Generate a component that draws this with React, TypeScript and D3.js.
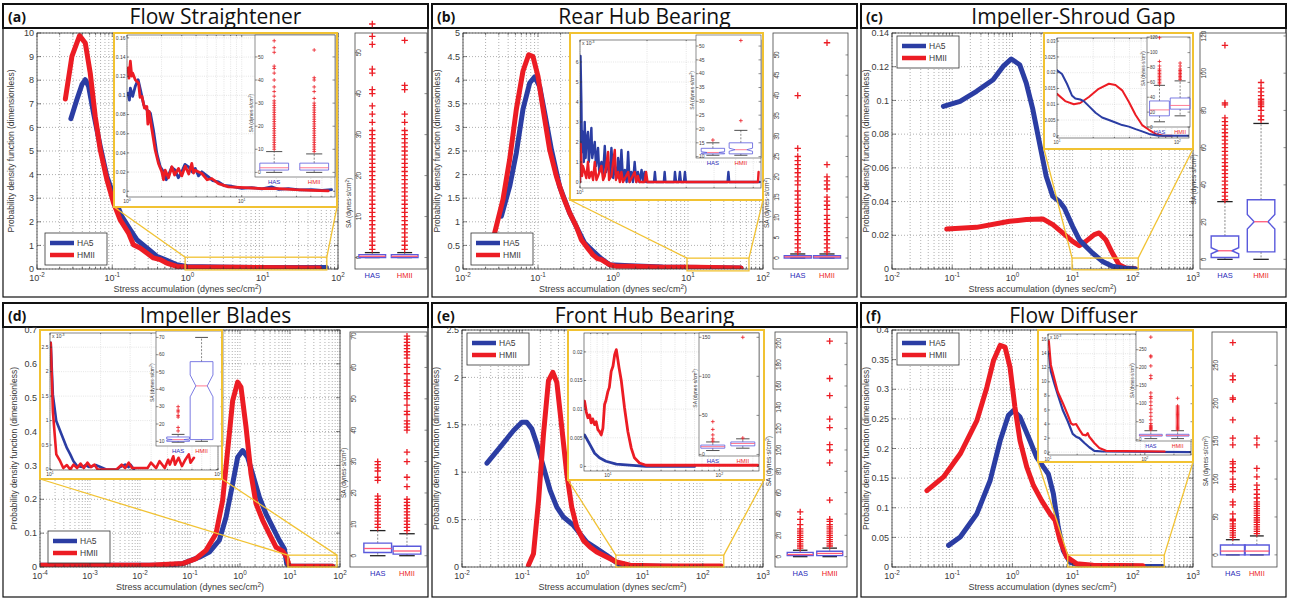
import React from "react";
import * as d3 from "d3";

type P = [number, number];

// ---------------- main curves (x = stress accumulation, y = PDF) ----------------
const aHA5: P[] = [[0.0282,6.37],[0.0339,7.18],[0.0395,7.81],[0.0438,8.02],[0.0485,7.74],[0.0564,6.61],[0.0692,5.2],[0.0848,3.93],[0.109,2.94],[0.134,2.23],[0.173,1.67],[0.212,1.24],[0.288,0.89],[0.39,0.54],[0.53,0.37],[0.72,0.18],[0.98,0.11],[4.06,0.07],[20,0.06],[70,0.06]];
const aHMII: P[] = [[0.0238,7.2],[0.0291,9.01],[0.0368,9.89],[0.0438,9.58],[0.051,8.3],[0.0594,6.47],[0.0692,5.06],[0.0848,3.79],[0.104,2.8],[0.127,2.09],[0.164,1.53],[0.191,1.03],[0.234,0.89],[0.288,0.68],[0.352,0.47],[0.432,0.4],[0.53,0.25],[0.72,0.11],[0.98,0.08],[4.06,0.07],[57,0.04]];
const bHA5: P[] = [[0.0325,1.12],[0.0419,1.75],[0.0514,2.46],[0.063,3.38],[0.0774,3.94],[0.0903,4.07],[0.105,3.87],[0.123,3.3],[0.151,2.53],[0.194,1.75],[0.264,1.19],[0.341,0.83],[0.419,0.55],[0.514,0.41],[0.66,0.25],[0.9,0.09],[1.67,0.07],[4.6,0.04],[51,0.02]];
const bHMII: P[] = [[0.0264,0.76],[0.0341,1.47],[0.0419,2.32],[0.0514,3.38],[0.063,4.19],[0.0751,4.54],[0.0858,4.5],[0.1,4.08],[0.117,3.38],[0.143,2.53],[0.176,1.96],[0.215,1.54],[0.264,1.19],[0.325,0.9],[0.378,0.62],[0.44,0.48],[0.54,0.3],[0.62,0.22],[0.7,0.2],[0.9,0.09],[1.1,0.06],[1.67,0.06],[4.6,0.035],[12.9,0.035],[51,0.02]];
const cHA5: P[] = [[0.0714,0.0965],[0.135,0.0995],[0.254,0.1054],[0.478,0.1123],[0.7,0.1202],[0.96,0.1246],[1.32,0.1212],[1.7,0.1103],[2.19,0.0945],[2.82,0.0747],[3.64,0.055],[4.69,0.0431],[6.04,0.0401],[7.3,0.0362],[10,0.0253],[12.9,0.0174],[16.6,0.0134],[21.4,0.0095],[31.4,0.0045],[45.7,0.0016],[67,0.0006],[111,0]];
const cHMII: P[] = [[0.081,0.0237],[0.2535,0.0247],[0.9,0.0283],[1.7,0.0293],[3.2,0.0297],[4.7,0.0263],[6.85,0.0214],[10,0.0164],[12.9,0.0138],[16.6,0.0164],[22.9,0.0204],[27.6,0.0214],[35.5,0.0174],[45.7,0.0095],[59,0.0026],[76,0.0006],[111,0.0002]];
const dHA5: P[] = [[0.0001,0.005],[0.033,0.005],[0.071,0.01],[0.154,0.029],[0.244,0.044],[0.386,0.079],[0.525,0.147],[0.713,0.246],[0.898,0.324],[1.13,0.344],[1.42,0.324],[1.79,0.275],[2.44,0.206],[3.31,0.157],[4.5,0.118],[6.1,0.079],[7.7,0.054],[8.6,0.01],[9.7,0.002],[71,0.002]];
const dHMII: P[] = [[0.0001,0.005],[0.0154,0.005],[0.071,0.01],[0.132,0.025],[0.209,0.049],[0.331,0.098],[0.45,0.197],[0.566,0.344],[0.713,0.491],[0.898,0.546],[1.047,0.531],[1.32,0.413],[1.66,0.275],[2.09,0.187],[2.84,0.138],[3.86,0.098],[5.25,0.059],[7.1,0.047],[8.6,0.029],[9.7,0.002],[71,0.002]];
const eHA5: P[] = [[0.026,1.095],[0.043,1.264],[0.0718,1.44],[0.0987,1.527],[0.119,1.527],[0.1445,1.457],[0.175,1.3],[0.226,1.053],[0.291,0.808],[0.376,0.632],[0.484,0.527],[0.71,0.439],[0.914,0.351],[1.18,0.263],[1.73,0.193],[2.53,0.123],[3.27,0.07],[4.2,0.018],[6.2,0.007],[22,0.007],[191,0]];
const eHMII: P[] = [[0.127,0.018],[0.154,0.14],[0.187,0.702],[0.226,1.404],[0.273,1.966],[0.322,2.054],[0.376,1.949],[0.454,1.475],[0.55,0.983],[0.665,0.632],[0.805,0.421],[1.04,0.281],[1.34,0.211],[1.73,0.158],[2.53,0.105],[3.7,0.053],[6.2,0.018],[22,0.01],[204,0.01]];
const fHA5: P[] = [[0.087,0.0365],[0.136,0.0506],[0.257,0.09],[0.427,0.146],[0.625,0.213],[0.859,0.256],[1.04,0.264],[1.34,0.253],[1.96,0.213],[2.53,0.185],[3.27,0.169],[3.95,0.157],[4.79,0.124],[5.78,0.067],[7.0,0.028],[9.0,0.0084],[13.2,0.003],[148,0.001],[316,0.001]];
const fHMII: P[] = [[0.038,0.129],[0.0718,0.152],[0.136,0.191],[0.257,0.247],[0.376,0.303],[0.484,0.348],[0.625,0.374],[0.755,0.371],[0.914,0.337],[1.1,0.27],[1.34,0.213],[1.73,0.169],[2.23,0.138],[3.06,0.112],[4.2,0.09],[5.1,0.079],[6.2,0.045],[7.95,0.017],[11.6,0.0056],[22,0.003],[148,0.002]];

// ---------------- inset (zoomed tail) curves ----------------
const aInHA5: P[] = [[1.02,0.1024],[1.05,0.095],[1.07,0.1076],[1.12,0.0989],[1.18,0.1094],[1.25,0.1164],[1.31,0.1059],[1.4,0.0901],[1.49,0.0849],[1.6,0.0814],[1.7,0.0639],[1.82,0.0395],[1.95,0.0255],[2.08,0.0203],[2.2,0.012],[2.3,0.0168],[2.45,0.025],[2.63,0.022],[2.8,0.014],[3.0,0.0203],[3.2,0.028],[3.44,0.0255],[3.7,0.02],[3.93,0.0238],[4.2,0.016],[4.49,0.0203],[5.13,0.015],[5.6,0.011],[6.27,0.0098],[7,0.006],[8.19,0.0052],[10,0.003],[12.2,0.0038],[15,0.0025],[18.2,0.0045],[21,0.002],[25.5,0.0028],[32,0.0015],[40.6,0.0017],[50,0.001],[60.6,0.0017]];
const aInHMII: P[] = [[1.02,0.1286],[1.04,0.118],[1.07,0.1356],[1.1,0.12],[1.12,0.1233],[1.18,0.1164],[1.26,0.1129],[1.3,0.098],[1.35,0.0989],[1.42,0.0867],[1.49,0.0884],[1.52,0.07],[1.56,0.0832],[1.65,0.0639],[1.76,0.043],[1.88,0.029],[2.01,0.0203],[2.08,0.012],[2.15,0.022],[2.3,0.014],[2.46,0.0255],[2.6,0.017],[2.81,0.0238],[3.0,0.016],[3.22,0.0262],[3.45,0.018],[3.67,0.029],[3.8,0.019],[3.93,0.022],[4.49,0.0185],[5,0.012],[5.48,0.0133],[6.27,0.008],[7.66,0.0045],[10.7,0.0038],[14.9,0.0028],[20.8,0.0028],[29.1,0.0017],[40.6,0.001],[56.7,0.0003]];
const bInHA5: P[] = [[10.0,0],[10.05,0.0063],[10.14,0.004],[10.2,0.0015],[10.31,0.0025],[10.4,0.001],[10.5,0.003],[10.6,0.0012],[10.67,0.002],[10.86,0.0025],[10.95,0.001],[11.06,0.0015],[11.25,0.0027],[11.35,0.0012],[11.45,0.0015],[11.65,0.002],[11.8,0.0008],[12.05,0.0017],[12.2,0.0005],[12.48,0.001],[12.7,0.0004],[12.92,0.0018],[13.1,0.0005],[13.37,0.001],[13.6,0.0003],[13.84,0.0017],[14.1,0.0002],[14.33,0.0008],[14.6,0.0002],[14.83,0.0012],[15.1,0.0002],[15.35,0.0016],[15.6,0.0001],[15.9,0.0006],[16.2,0],[16.45,0.0015],[16.7,0],[17.0,0.0005],[17.3,0],[17.6,0.001],[17.9,0],[18.2,0.0005],[18.5,0],[18.9,0.0006],[19.2,0],[19.5,0.0005],[19.8,0],[21.5,0],[21.7,0.0005],[21.9,0],[23.8,0],[24.0,0.0005],[24.2,0],[26.5,0],[26.7,0.0005],[27.0,0],[27.8,0],[28.1,0.0005],[28.4,0],[29.3,0],[29.6,0.0005],[29.9,0],[46.0,0],[46.4,0.0005],[46.8,0],[64,0]];
const bInHMII: P[] = [[10.0,0],[10.05,0.0019],[10.14,0.001],[10.22,0.0003],[10.31,0.0008],[10.5,0.0005],[10.67,0.0002],[10.86,0.001],[11.0,0.0002],[11.25,0.0005],[11.45,0.0001],[11.65,0.001],[11.85,0.0001],[12.05,0.0003],[12.48,0.0008],[12.7,0.0001],[12.92,0.0003],[13.37,0.0015],[13.5,0.0001],[13.84,0.0003],[14.33,0.0016],[14.5,0.0001],[14.83,0.0005],[15.1,0],[15.35,0.0005],[15.6,0],[16.45,0.0005],[16.7,0],[17.6,0.0005],[17.9,0],[18.2,0.0003],[18.5,0],[19.5,0],[19.8,0.0005],[20.1,0],[63,0],[63.4,0.0005]];
const cInHA5: P[] = [[10,0.0208],[11.0,0.0196],[12.1,0.0165],[13.3,0.0128],[14.2,0.0118],[15.6,0.0115],[16.7,0.011],[18.4,0.0094],[20.9,0.0073],[23.7,0.0058],[27,0.005],[30.6,0.0042],[34.8,0.0034],[39.6,0.0029],[45,0.0021],[51,0.0014],[58,0.0006],[70,0],[125,0]];
const cInHMII: P[] = [[10,0.0133],[11.7,0.011],[13.8,0.01],[15.6,0.0104],[18.4,0.0123],[22.2,0.0149],[27,0.0165],[30.6,0.0161],[34.8,0.0144],[39.6,0.0107],[45,0.0066],[51,0.0034],[58,0.0019],[66,0.0006],[75,0.0001],[90,0]];
const dInHA5: P[] = [[10.1,0.00259],[10.4,0.00153],[10.9,0.00099],[11.7,0.00072],[12.6,0.00044],[13.2,0.00031],[13.8,0.00017],[14.5,0.00007],[15.6,0.00005],[16.3,0.00009],[17.1,0.00005],[18.8,0.00009],[20.6,0.00003],[21.6,0],[24.9,0],[26.1,0.00005],[28,0.0001],[29.4,0.00005],[30.1,0.0001],[31.6,0]];
const dInHMII: P[] = [[10.1,0.00259],[10.4,0.00119],[10.9,0.00031],[11.5,0.00017],[12.0,0.00003],[12.6,0.00009],[13.2,0],[13.8,0.0001],[14.5,0.00003],[15.2,0.00012],[15.9,0.00003],[16.7,0.00014],[17.5,0.00005],[18.4,0.0001],[19.2,0],[24.9,0],[26.7,0.0001],[28,0.00003],[29.4,0.00014],[30.8,0.00003],[38.1,0.00003],[39.9,0.00014],[42.8,0.00003],[44.9,0.00017],[48.2,0.00003],[50.5,0.0002],[51.7,0.0001],[54.2,0.00027],[55.5,0.0001],[58.2,0.00024],[61,0.00007],[63.9,0.0002],[67,0.00031],[68.6,0.00014],[71.9,0.00024]];
const eInHA5: P[] = [[6.17,0.0055],[6.9,0.0038],[7.6,0.0023],[8.4,0.0015],[9.6,0.0009],[11.9,0.0004],[16.7,0.0002],[22,0],[60,0]];
const eInHMII: P[] = [[6.17,0.0114],[6.4,0.0095],[6.62,0.0085],[6.85,0.009],[7.08,0.0076],[7.3,0.0083],[7.59,0.0073],[7.85,0.0078],[8.13,0.0064],[8.4,0.0061],[8.71,0.0055],[9.02,0.0067],[9.33,0.0108],[9.6,0.0115],[10,0.0131],[10.3,0.0138],[10.7,0.0166],[11.1,0.0175],[11.5,0.0195],[11.9,0.0204],[12.2,0.019],[12.6,0.0172],[13.2,0.0149],[14.1,0.0102],[15.1,0.0061],[16.2,0.0032],[17.3,0.0015],[19.2,0.0006],[22,0.0002],[221,0.0002]];
const fInHA5: P[] = [[10.2,0.0143],[10.7,0.0115],[11.6,0.0098],[12.6,0.0082],[14.2,0.006],[16.0,0.0044],[18.0,0.0026],[19.5,0.0022],[21.1,0.002],[23.8,0.0013],[26.7,0.0007],[30.1,0.0002],[36.7,0.0001],[300,0]];
const fInHMII: P[] = [[10.2,0.0158],[10.7,0.0124],[11.6,0.0105],[12.6,0.0086],[14.2,0.007],[16.0,0.0053],[17.3,0.0041],[18.2,0.0039],[19.5,0.004],[21.1,0.0032],[22.8,0.0025],[24.7,0.0024],[25.7,0.0027],[26.7,0.0022],[30.1,0.0013],[33.9,0.0006],[39.8,0.0002],[160,0.0001]];

// ---------------- zoom windows [xmin, xmax, ymin, ymax] ----------------
const aZoom = [0.93, 71, -0.04, 0.5];
const bZoom = [9.7, 65, -0.04, 0.23];
const cZoom = [9.8, 123, -0.0005, 0.0065];
const dZoom = [9.1, 87, 0, 0.035];
const eZoom = [3.6, 223, 0, 0.125];
const fZoom = [8.3, 333, 0, 0.02];

// ---------------- box plots: [lowerWhisker, q1, median, q3, upperWhisker] ----------------
const aInHASbox = [0, 1, 2, 4, 9];
const aInHASout = [10,11,12,13,14,15,16,17,18,19,20,21,22,23,24,25,26,27,28,29,30,31,33,35,37,40,43,45,46,52,54,57];
const aInHMIIbox = [0, 1, 2, 4, 8];
const aInHMIIout = [9,10,11,12,13,14,15,16,17,18,19,20,21,22,23,24,25,26,27,28,29,30,32,35,37,40,41,53];
const aHASbox = [0, 0, 0.3, 0.7, 1.2];
const aHASout = [2,3,4,5,6,7,8,9,10,11,12,13,14,15,16,17,18,19,20,21,22,23,24,25,26,27,28,29,30,31,33,35,37,40,41,45,46,52,54,57];
const aHMIIbox = [0, 0, 0.3, 0.7, 1.2];
const aHMIIout = [2,3,4,5,6,7,8,9,10,11,12,13,14,15,16,17,18,19,20,21,22,23,24,25,26,27,28,29,30,31,33,35,41,42,53];

const bInHASbox = [10.5, 11, 11.5, 13, 15];
const bInHASout = [16];
const bInHMIIbox = [10.5, 11, 12.5, 15, 19.5];
const bInHMIIout = [23, 52];
const bHASbox = [0, 0, 0.3, 0.6, 1];
const bHASout = [1.5,2.5,3.5,4.5,5.5,6.5,7.5,8.5,9.5,10.5,11.5,12.5,13.5,14.5,15.5,16.5,18,19,20,21,22,23,24,25,27,40];
const bHMIIbox = [0, 0, 0.3, 0.6, 1];
const bHMIIout = [1.5,2.5,3.5,4.5,5.5,6.5,7.5,8.5,9.5,10.5,12,13,14,15,17,18,19,20,23,53];

const cInHASbox = [7, 15, 23, 35, 56];
const cInHASout = [58,60,62,64,66,68,70,72,74,76,78,82,88,120];
const cInHMIIbox = [15, 24, 29, 39, 62];
const cInHMIIout = [64,66,68,70,72,74,76,78,82,86];
const cHASbox = [0, 1, 4.6, 12.5, 31];
const cHASout = [32,34,36,38,40,42,44,46,48,50,52,54,56,58,60,62,64,66,68,70,72,74,76,83,84,115];
const cHMIIbox = [0, 4, 20.2, 32, 73];
const cHMIIout = [75,77,80,82,83,84,85,86,88,90,92,95];

const dInHASbox = [9.5, 10, 11, 12.5, 14];
const dInHASout = [16, 18, 24, 25, 27, 28, 30];
const dInHMIIbox = [10, 11, 42, 56, 70];
const dInHMIIout: number[] = [];
const dHASbox = [0, 1, 2.3, 4, 8];
const dHASout = [9,10,11,12,13,14,15,16,17,18,19,24,25,27,28,29,30];
const dHMIIbox = [0, 0.5, 1.5, 3, 7];
const dHMIIout = [8,9,10,11,12,13,14,15,16,17,18,22,25,30,33,40,41,42,43,45,46,48,50,51,52,54,55,56,58,60,61,63,64,65,66,67,68,69,70];

const eInHASbox = [5, 8, 10, 12, 16];
const eInHASout = [17, 20, 25, 32, 42];
const eInHMIIbox = [8, 11, 14, 16, 20];
const eInHMIIout = [21, 150];
const eHASbox = [0, 1, 2, 4, 6];
const eHASout = [8,10,12,14,16,18,20,22,24,26,30,35,42];
const eHMIIbox = [0, 1, 3, 5, 8];
const eHMIIout = [10,12,14,16,18,20,22,24,26,28,30,33,35,53,88,100,105,121,129,151,167,202];

const fInHASbox = [3, 10, 12, 15, 25];
const fInHASout = [28,31,34,37,40,45,55,65,75,85,95,105,115,120,130,170,178,205,230,233,285];
const fInHMIIbox = [3, 10, 12, 15, 25];
const fInHMIIout = [28,31,34,37,40,43,46,49,52,55,58,61,64,67,70,73,76,79,82,85,88,91,94,115];
const fHASbox = [0, 0, 5, 13, 20];
const fHASout = [23,26,29,32,35,38,41,45,47,54,66,70,86,90,93,100,110,115,120,123,145,154,178,205,207,231,236,280];
const fHMIIbox = [0, 0, 5, 13, 25];
const fHMIIout = [28,31,34,37,40,43,46,49,52,55,58,61,64,67,70,75,80,86,92,103,114,145,154];

// ---------------- tick values ----------------
const aYTicks = [0,1,2,3,4,5,6,7,8,9,10];
const bYTicks = [0,0.5,1,1.5,2,2.5,3,3.5,4,4.5,5];
const cYTicks = [0,0.02,0.04,0.06,0.08,0.1,0.12,0.14];
const dYTicks = [0,0.1,0.2,0.3,0.4,0.5,0.6,0.7];
const eYTicks = [0,0.5,1,1.5,2,2.5];
const fYTicks = [0,0.05,0.1,0.15,0.2,0.25,0.3,0.35,0.4];
const xExp4 = [-2,-1,0,1,2];
const xExp5 = [-2,-1,0,1,2,3];
const xExp6 = [-4,-3,-2,-1,0,1,2];
const aInYTicks = [0,0.02,0.04,0.06,0.08,0.1,0.12,0.14,0.16];
const bInYTicks = [0,0.001,0.002,0.003,0.004,0.005,0.006];
const cInYTicks = [0,0.005,0.01,0.015,0.02,0.025,0.03];
const dInYTicks = [0,0.0005,0.001,0.0015,0.002,0.0025];
const eInYTicks = [0,0.005,0.01,0.015,0.02];
const fInYTicks = [0,0.002,0.004,0.006,0.008,0.01,0.012,0.014,0.016];
const boxTicks10 = [0,10,20,30,40,50];
const boxTicks5 = [0,5,10,15,20,25,30,35,40,45,50];
const boxTicks20 = [0,20,40,60,80,100,120];
const boxTicks10to70 = [0,10,20,30,40,50,60,70];
const boxTicks200 = [0,20,40,60,80,100,120,140,160,180,200];
const boxTicks50 = [0,50,100,150,200,250];
const boxTicksIn5 = [10,15,20,25,30,35,40,45,50];
const boxTicksInD = [10,20,30,40,50,60,70];
const boxTicksInE = [0,50,100,150];

const BLUE = "#2b3da3";
const RED = "#ec1c24";
const GOLD = "#f1c232";
const BOXBLUE = "#5a5adc";
const MEDRED = "#ff5a78";
const TXT = "#3a3a3a";

const fmt = (v: number) => String(+v.toFixed(4));

function LogPlot({ c, uid }: any) {
  const x = d3.scaleLog().domain(c.xDom).range([c.x0, c.x1]);
  const y = d3.scaleLinear().domain(c.yDom).range([c.y1, c.y0]);
  const e0 = Math.floor(Math.log10(c.xDom[0]) + 1e-9);
  const e1 = Math.ceil(Math.log10(c.xDom[1]) - 1e-9);
  const vt: { v: number; major: boolean; e: number }[] = [];
  for (let e = e0; e <= e1; e++)
    for (let k = 1; k <= 9; k++) {
      const v = k * Math.pow(10, e);
      if (v >= c.xDom[0] * 0.9999 && v <= c.xDom[1] * 1.0001) vt.push({ v, major: k === 1, e });
    }
  const line = d3.line<P>().x((d) => x(d[0])).y((d) => y(d[1]));
  const main = c.main;
  const fs = c.fs;
  const tl = main ? 4 : 2;
  const grid = main ? "#7a7a7a" : "#c4c4c4";
  const dash = main ? "1 2" : "1 1.2";
  const gw = main ? 0.6 : 0.45;
  const mult = c.mult;
  return (
    <g>
      <defs>
        <clipPath id={uid}>
          <rect x={c.x0} y={c.y0} width={c.x1 - c.x0} height={c.y1 - c.y0} />
        </clipPath>
      </defs>
      <rect x={c.x0} y={c.y0} width={c.x1 - c.x0} height={c.y1 - c.y0} fill="#fff" />
      {vt.map((t, i) => (
        <line key={"gx" + i} x1={x(t.v)} x2={x(t.v)} y1={c.y0} y2={c.y1} stroke={grid} strokeWidth={gw} strokeDasharray={dash} />
      ))}
      {c.yTicks.map((v: number, i: number) => (
        <line key={"gy" + i} x1={c.x0} x2={c.x1} y1={y(v)} y2={y(v)} stroke={grid} strokeWidth={gw} strokeDasharray={dash} />
      ))}
      <g clipPath={`url(#${uid})`}>
        {c.series.map((s: any, i: number) => (
          <path key={"s" + i} d={line(s.data) || ""} fill="none" stroke={s.color} strokeWidth={c.lw} strokeLinejoin="round" strokeLinecap="round" />
        ))}
      </g>
      <rect x={c.x0} y={c.y0} width={c.x1 - c.x0} height={c.y1 - c.y0} fill="none" stroke="#333" strokeWidth={main ? 0.8 : 0.6} />
      {vt.map((t, i) => {
        const L = t.major ? tl : tl * 0.6;
        return (
          <g key={"tx" + i}>
            <line x1={x(t.v)} x2={x(t.v)} y1={c.y1} y2={c.y1 - L} stroke="#333" strokeWidth={0.6} />
            <line x1={x(t.v)} x2={x(t.v)} y1={c.y0} y2={c.y0 + L} stroke="#333" strokeWidth={0.6} />
          </g>
        );
      })}
      {c.yTicks.map((v: number, i: number) => (
        <g key={"ty" + i}>
          <line x1={c.x0} x2={c.x0 + tl} y1={y(v)} y2={y(v)} stroke="#333" strokeWidth={0.6} />
          <line x1={c.x1} x2={c.x1 - tl} y1={y(v)} y2={y(v)} stroke="#333" strokeWidth={0.6} />
          <text x={c.x0 - (main ? 3 : 1.5)} y={y(v)} dy="0.35em" textAnchor="end" fontSize={fs} fill={TXT}>
            {mult ? fmt(v * 1000) : fmt(v)}
          </text>
        </g>
      ))}
      {c.xExps.map((e: number, i: number) => (
        <text key={"xl" + i} x={x(Math.pow(10, e))} y={c.y1 + (main ? 12 : 6)} textAnchor="middle" fontSize={fs} fill={TXT}>
          10
          <tspan dy={main ? -4 : -2} fontSize={fs * 0.7}>
            {String(e)}
          </tspan>
        </text>
      ))}
      {mult ? (
        <text x={c.x0 + 2} y={c.y0 + 5} fontSize={fs} fill={TXT}>
          x 10<tspan dy={-2} fontSize={fs * 0.7}>-3</tspan>
        </text>
      ) : null}
    </g>
  );
}

function BoxPlot({ c }: any) {
  const y = d3.scaleLinear().domain(c.yDom).range([c.y1, c.y0]);
  const w = c.x1 - c.x0;
  const bw = w * c.bwf;
  const main = c.main;
  const fs = c.fs;
  const ms = main ? 3.2 : 1.9;
  return (
    <g>
      <rect x={c.x0} y={c.y0} width={w} height={c.y1 - c.y0} fill="#fff" stroke="#444" strokeWidth={main ? 0.8 : 0.6} />
      {c.yTicks.map((v: number, i: number) => (
        <g key={"bt" + i}>
          <line x1={c.x0} x2={c.x0 + 2.5} y1={y(v)} y2={y(v)} stroke="#444" strokeWidth={0.6} />
          <line x1={c.x1} x2={c.x1 - 2.5} y1={y(v)} y2={y(v)} stroke="#444" strokeWidth={0.6} />
          {main ? (
            <text transform={`translate(${c.x0 + 6},${y(v)}) rotate(-90)`} textAnchor="middle" fontSize={fs} fill={TXT}>
              {fmt(v)}
            </text>
          ) : (
            <text x={c.x0 + 3} y={y(v)} dy="0.35em" fontSize={fs} fill={TXT}>
              {fmt(v)}
            </text>
          )}
        </g>
      ))}
      {c.boxes.map((b: any, i: number) => {
        const cx = c.x0 + w * c.centers[i];
        const [lo, q1, med, q3, hi] = b.stats;
        const L = cx - bw / 2;
        const R = cx + bw / 2;
        const cw = bw * 0.28;
        let boxPath: string;
        if (c.notch) {
          const n = Math.min((q3 - q1) * 0.14, (q3 - med) * 0.9, (med - q1) * 0.9);
          const ind = bw * 0.25;
          boxPath = `M${L},${y(q3)}H${R}V${y(med + n)}L${R - ind},${y(med)}L${R},${y(med - n)}V${y(q1)}H${L}V${y(med - n)}L${L + ind},${y(med)}L${L},${y(med + n)}Z`;
        } else {
          boxPath = `M${L},${y(q3)}H${R}V${y(q1)}H${L}Z`;
        }
        const mi = c.notch ? bw * 0.25 : 0;
        return (
          <g key={"b" + i}>
            <line x1={cx} x2={cx} y1={y(q3)} y2={y(hi)} stroke="#555" strokeWidth={0.7} strokeDasharray="2 1.5" />
            <line x1={cx} x2={cx} y1={y(q1)} y2={y(lo)} stroke="#555" strokeWidth={0.7} strokeDasharray="2 1.5" />
            <line x1={cx - cw} x2={cx + cw} y1={y(hi)} y2={y(hi)} stroke="#222" strokeWidth={main ? 1.3 : 0.8} />
            <line x1={cx - cw} x2={cx + cw} y1={y(lo)} y2={y(lo)} stroke="#222" strokeWidth={main ? 1.3 : 0.8} />
            <path d={boxPath} fill="none" stroke={BOXBLUE} strokeWidth={main ? 1.4 : 0.8} />
            <line x1={L + mi} x2={R - mi} y1={y(med)} y2={y(med)} stroke={MEDRED} strokeWidth={main ? 1.3 : 0.8} />
            {b.out.map((o: number, j: number) => (
              <path key={"o" + j} d={`M${cx - ms},${y(o)}H${cx + ms}M${cx},${y(o) - ms}V${y(o) + ms}`} stroke={RED} strokeWidth={main ? 1.3 : 0.8} fill="none" />
            ))}
            <text x={cx} y={c.y1 + fs + 2} textAnchor="middle" fontSize={fs + 1} fill={b.color}>
              {b.name}
            </text>
          </g>
        );
      })}
      <text transform={`translate(${c.x0 - (main ? 4 : 2.5)},${c.y0 + (c.y1 - c.y0) * c.saPos}) rotate(-90)`} textAnchor="middle" fontSize={fs} fill={TXT}>
        SA (dynes·s/cm<tspan dy={-2} fontSize={fs * 0.7}>2</tspan>
        <tspan dy={2}>)</tspan>
      </text>
    </g>
  );
}

function Legend({ x, y }: any) {
  return (
    <g>
      <rect x={x} y={y} width={62} height={32} fill="#fff" stroke="#333" strokeWidth={0.8} />
      <line x1={x + 5} x2={x + 29} y1={y + 10} y2={y + 10} stroke={BLUE} strokeWidth={4.5} />
      <text x={x + 32} y={y + 10} dy="0.35em" fontSize={8.5} fill={TXT}>HA5</text>
      <line x1={x + 5} x2={x + 29} y1={y + 22} y2={y + 22} stroke={RED} strokeWidth={4.5} />
      <text x={x + 32} y={y + 22} dy="0.35em" fontSize={8.5} fill={TXT}>HMII</text>
    </g>
  );
}

const mk = (blue: P[], red: P[], redTop: boolean) =>
  redTop ? [{ data: blue, color: BLUE }, { data: red, color: RED }] : [{ data: red, color: RED }, { data: blue, color: BLUE }];

const boxes = (hs: number[], ho: number[], ms: number[], mo: number[]) => [
  { stats: hs, out: ho, name: "HAS", color: "#2a2ab8" },
  { stats: ms, out: mo, name: "HMII", color: RED },
];

const panels = [
  {
    label: "(a)", title: "Flow Straightener", frame: [3, 4, 428, 297], legend: "bl", zoom: aZoom,
    main: { x0: 37, x1: 338, y0: 33, y1: 269, xDom: [0.01, 100], yDom: [0, 10], yTicks: aYTicks, xExps: xExp4, series: mk(aHA5, aHMII, true), lw: 5, fs: 9, main: true },
    yellow: [114, 33, 337, 207],
    inset: { x0: 127, x1: 335, y0: 35, y1: 197, xDom: [1, 65], yDom: [-0.006, 0.163], yTicks: aInYTicks, xExps: [0, 1], series: mk(aInHA5, aInHMII, true), lw: 2.8, fs: 5, main: false },
    ibox: { x0: 255, x1: 335, y0: 35, y1: 177, yDom: [-2, 59.5], yTicks: boxTicks10, centers: [0.24, 0.74], bwf: 0.36, fs: 5, main: false, saPos: 0.55, boxes: boxes(aInHASbox, aInHASout, aInHMIIbox, aInHMIIout) },
    box: { x0: 355, x1: 427, y0: 33, y1: 269, yDom: [-2.8, 54.8], yTicks: boxTicks10, centers: [0.24, 0.69], bwf: 0.37, fs: 6.5, main: true, saPos: 0.72, boxes: boxes(aHASbox, aHASout, aHMIIbox, aHMIIout) },
  },
  {
    label: "(b)", title: "Rear Hub Bearing", frame: [432, 4, 857, 297], legend: "bl", zoom: bZoom,
    main: { x0: 463, x1: 763, y0: 33, y1: 269, xDom: [0.01, 100], yDom: [0, 5], yTicks: bYTicks, xExps: xExp4, series: mk(bHA5, bHMII, true), lw: 5, fs: 9, main: true },
    yellow: [570, 33, 763, 200],
    inset: { x0: 580, x1: 761, y0: 40, y1: 188, xDom: [10, 65], yDom: [-0.0003, 0.0071], yTicks: bInYTicks, xExps: [1], series: mk(bInHA5, bInHMII, true), lw: 2.4, fs: 5, main: false, mult: true },
    ibox: { x0: 696, x1: 761, y0: 35, y1: 158, yDom: [9.5, 54], yTicks: boxTicksIn5, centers: [0.26, 0.69], bwf: 0.36, fs: 5, main: false, notch: true, saPos: 0.45, boxes: boxes(bInHASbox, bInHASout, bInHMIIbox, bInHMIIout) },
    box: { x0: 773, x1: 848, y0: 33, y1: 269, yDom: [-2.7, 55.4], yTicks: boxTicks5, centers: [0.33, 0.72], bwf: 0.36, fs: 6.5, main: true, saPos: 0.72, boxes: boxes(bHASbox, bHASout, bHMIIbox, bHMIIout) },
  },
  {
    label: "(c)", title: "Impeller-Shroud Gap", frame: [861, 4, 1286, 297], legend: "tl", zoom: cZoom,
    main: { x0: 892, x1: 1193, y0: 33, y1: 269, xDom: [0.01, 1000], yDom: [0, 0.14], yTicks: cYTicks, xExps: xExp5, series: mk(cHA5, cHMII, false), lw: 5, fs: 9, main: true },
    yellow: [1044, 33, 1193, 149],
    inset: { x0: 1057, x1: 1189, y0: 38, y1: 138, xDom: [10, 125], yDom: [-0.0007, 0.031], yTicks: cInYTicks, xExps: [1, 2], series: mk(cInHA5, cInHMII, false), lw: 2, fs: 4.5, main: false },
    ibox: { x0: 1147, x1: 1190, y0: 37, y1: 127, yDom: [0, 121], yTicks: boxTicks20, centers: [0.29, 0.77], bwf: 0.46, fs: 4.5, main: false, saPos: 0.35, boxes: boxes(cInHASbox, cInHASout, cInHMIIbox, cInHMIIout) },
    box: { x0: 1200, x1: 1286, y0: 33, y1: 269, yDom: [-5.2, 121.6], yTicks: boxTicks20, centers: [0.29, 0.71], bwf: 0.32, fs: 6.5, main: true, notch: true, saPos: 0.62, boxes: boxes(cHASbox, cHASout, cHMIIbox, cHMIIout) },
  },
  {
    label: "(d)", title: "Impeller Blades", frame: [3, 303, 428, 597], legend: "bl", zoom: dZoom,
    main: { x0: 40, x1: 340, y0: 330, y1: 567, xDom: [0.0001, 100], yDom: [0, 0.7], yTicks: dYTicks, xExps: xExp6, series: mk(dHA5, dHMII, true), lw: 5, fs: 9, main: true },
    yellow: [40, 330, 222, 479],
    inset: { x0: 50, x1: 218, y0: 333, y1: 470, xDom: [10, 100], yDom: [-0.00001, 0.00279], yTicks: dInYTicks, xExps: [1, 2], series: mk(dInHA5, dInHMII, true), lw: 2.6, fs: 5, main: false, mult: true },
    ibox: { x0: 156, x1: 223, y0: 331, y1: 446, yDom: [7.3, 73.7], yTicks: boxTicksInD, centers: [0.33, 0.68], bwf: 0.34, fs: 5, main: false, notch: true, saPos: 0.45, boxes: boxes(dInHASbox, dInHASout, dInHMIIbox, dInHMIIout) },
    box: { x0: 350, x1: 427, y0: 332, y1: 567, yDom: [-3.6, 71.3], yTicks: boxTicks10to70, centers: [0.36, 0.74], bwf: 0.36, fs: 6.5, main: true, saPos: 0.6, boxes: boxes(dHASbox, dHASout, dHMIIbox, dHMIIout) },
  },
  {
    label: "(e)", title: "Front Hub Bearing", frame: [432, 303, 857, 597], legend: "tl", zoom: eZoom,
    main: { x0: 462, x1: 763, y0: 330, y1: 567, xDom: [0.01, 1000], yDom: [0, 2.5], yTicks: eYTicks, xExps: xExp5, series: mk(eHA5, eHMII, true), lw: 5, fs: 9, main: true },
    yellow: [568, 330, 764, 480],
    inset: { x0: 584, x1: 759, y0: 333, y1: 471, xDom: [6.1, 227], yDom: [-0.0008, 0.0233], yTicks: eInYTicks, xExps: [1, 2], series: mk(eInHA5, eInHMII, true), lw: 2.8, fs: 5, main: false },
    ibox: { x0: 699, x1: 759, y0: 333, y1: 456, yDom: [-2, 155.5], yTicks: boxTicksInE, centers: [0.23, 0.73], bwf: 0.4, fs: 5, main: false, saPos: 0.45, boxes: boxes(eInHASbox, eInHASout, eInHMIIbox, eInHMIIout) },
    box: { x0: 775, x1: 847, y0: 332, y1: 567, yDom: [-9.7, 210.6], yTicks: boxTicks200, centers: [0.35, 0.76], bwf: 0.36, fs: 6.5, main: true, saPos: 0.55, boxes: boxes(eHASbox, eHASout, eHMIIbox, eHMIIout) },
  },
  {
    label: "(f)", title: "Flow Diffuser", frame: [861, 303, 1286, 597], legend: "tl", zoom: fZoom,
    main: { x0: 892, x1: 1193, y0: 330, y1: 567, xDom: [0.01, 1000], yDom: [0, 0.4], yTicks: fYTicks, xExps: xExp5, series: mk(fHA5, fHMII, true), lw: 5, fs: 9, main: true },
    yellow: [1038, 330, 1193, 462],
    inset: { x0: 1048, x1: 1191, y0: 334, y1: 455, xDom: [10, 300], yDom: [-0.0004, 0.0168], yTicks: fInYTicks, xExps: [1, 2], series: mk(fInHA5, fInHMII, true), lw: 2.2, fs: 4.5, main: false, mult: true },
    ibox: { x0: 1136, x1: 1193, y0: 331, y1: 441, yDom: [-3.6, 302], yTicks: boxTicks50, centers: [0.26, 0.73], bwf: 0.4, fs: 4.5, main: false, saPos: 0.45, boxes: boxes(fInHASbox, fInHASout, fInHMIIbox, fInHMIIout) },
    box: { x0: 1212, x1: 1277, y0: 332, y1: 567, yDom: [-16, 294], yTicks: boxTicks50, centers: [0.32, 0.69], bwf: 0.38, fs: 6.5, main: true, saPos: 0.55, boxes: boxes(fHASbox, fHASout, fHMIIbox, fHMIIout) },
  },
];

function Panel({ p, idx }: any) {
  const [fx0, fy0, fx1, fy1] = p.frame;
  const m = p.main;
  const x = d3.scaleLog().domain(m.xDom).range([m.x0, m.x1]);
  const y = d3.scaleLinear().domain(m.yDom).range([m.y1, m.y0]);
  const [zx0, zx1, zy0, zy1] = p.zoom;
  const rx0 = x(zx0), rx1 = x(zx1), ry0 = y(zy1), ry1 = y(zy0);
  const [ix0, iy0, ix1, iy1] = p.yellow;
  const leg = p.legend === "bl" ? { x: m.x0 + 8, y: m.y1 - 36 } : { x: m.x0 + 5, y: m.y0 + 3 };
  const tb = 24;
  return (
    <g>
      <rect x={fx0} y={fy0} width={fx1 - fx0} height={fy1 - fy0} fill="#fff" stroke="#111" strokeWidth={1.2} />
      <rect x={fx0} y={fy0} width={fx1 - fx0} height={tb} fill="#fff" stroke="#111" strokeWidth={2} />
      <text x={fx0 + 5} y={fy0 + 18} fontSize={14} fontWeight="bold" fontFamily="Open Sans, sans-serif" fill="#111">
        {p.label}
      </text>
      <text x={(fx0 + fx1) / 2} y={fy0 + 20} fontSize={21} textAnchor="middle" fontFamily="Open Sans, sans-serif" fill="#111">
        {p.title}
      </text>
      <LogPlot c={m} uid={"m" + idx} />
      <Legend x={leg.x} y={leg.y} />
      <text transform={`translate(${m.x0 - 23},${(m.y0 + m.y1) / 2}) rotate(-90)`} textAnchor="middle" fontSize={8.5} fill={TXT}>
        Probability density function (dimensionless)
      </text>
      <text x={(m.x0 + m.x1) / 2} y={m.y1 + 23} textAnchor="middle" fontSize={9} fill={TXT}>
        Stress accumulation (dynes sec/cm<tspan dy={-3} fontSize={6.5}>2</tspan>
        <tspan dy={3}>)</tspan>
      </text>
      <rect x={rx0} y={ry0} width={rx1 - rx0} height={ry1 - ry0} fill="none" stroke={GOLD} strokeWidth={1.3} />
      <line x1={ix0} y1={iy1} x2={rx0} y2={ry0} stroke={GOLD} strokeWidth={1.3} />
      <line x1={ix1} y1={iy1} x2={rx1} y2={ry0} stroke={GOLD} strokeWidth={1.3} />
      <rect x={ix0} y={iy0} width={ix1 - ix0} height={iy1 - iy0} fill="#fff" stroke={GOLD} strokeWidth={2} />
      <LogPlot c={p.inset} uid={"i" + idx} />
      <BoxPlot c={p.ibox} />
      <rect x={ix0} y={iy0} width={ix1 - ix0} height={iy1 - iy0} fill="none" stroke={GOLD} strokeWidth={2} />
      <BoxPlot c={p.box} />
    </g>
  );
}

export default function App() {
  return (
    <svg width={1289} height={599} style={{ position: "absolute", left: 0, top: 0, background: "#fff" }} fontFamily="Liberation Sans, Arial, sans-serif">
      {panels.map((p, i) => (
        <Panel key={i} p={p} idx={i} />
      ))}
    </svg>
  );
}
